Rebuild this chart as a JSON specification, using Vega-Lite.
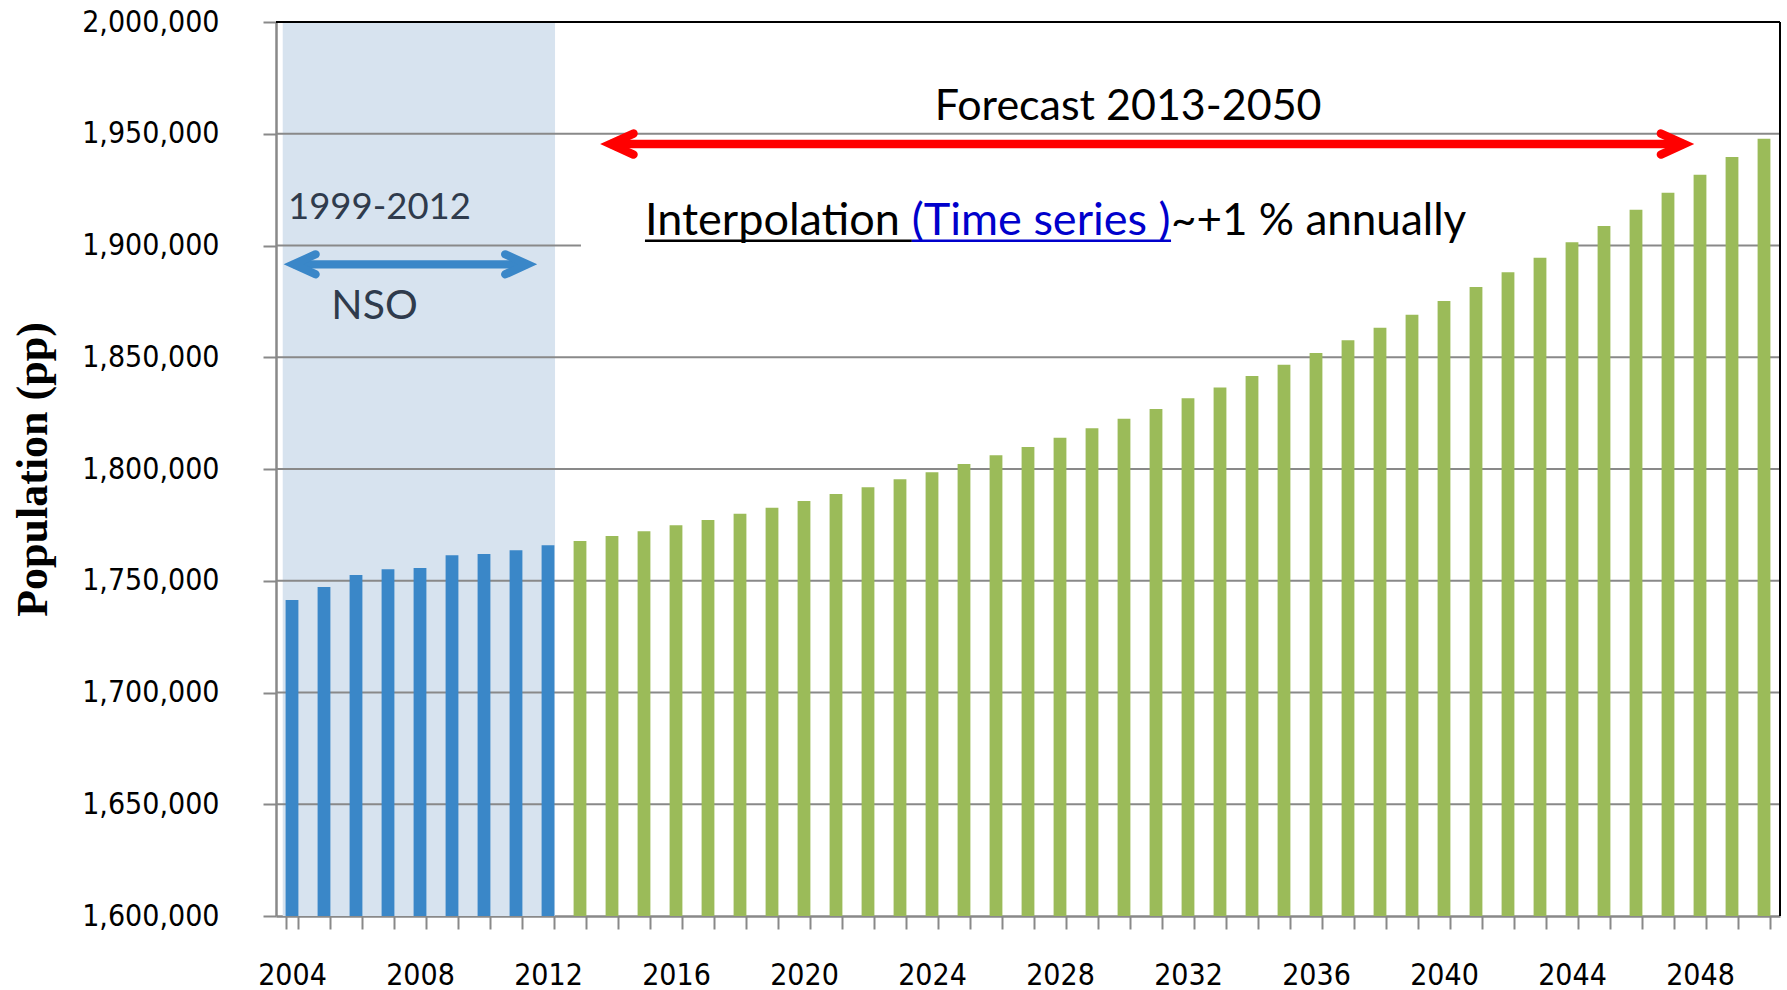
{
  "$schema": "https://vega.github.io/schema/vega-lite/v6.json",
  "width": 1504,
  "height": 894,
  "autosize": {"type": "none"},
  "padding": {"left": 276, "top": 22, "right": 7, "bottom": 74},
  "background": "white",
  "config": {
    "view": {"stroke": null},
    "axis": {
      "domainColor": "#898989",
      "domainWidth": 2.5,
      "tickColor": "#898989",
      "tickWidth": 2,
      "tickSize": 13,
      "labelFont": "DejaVu Sans Condensed",
      "labelFontSize": 30,
      "labelColor": "#000000"
    }
  },
  "resolve": {"scale": {"x": "independent"}},
  "layer": [
    {
      "layer": [
        {
          "data": {"values": [{}]},
          "mark": {"type": "rect", "color": "#d7e3ef"},
          "encoding": {
            "x": {"datum": 2003.71, "type": "quantitative", "scale": {"domain": [2003.5, 2050.5], "nice": false, "zero": false}, "axis": null},
            "x2": {"datum": 2012.22},
            "y": {"datum": 1600000, "type": "quantitative"},
            "y2": {"datum": 2000000}
          }
        },
        {
          "data": {"values": [{"v": 1650000}, {"v": 1700000}, {"v": 1750000}, {"v": 1800000}, {"v": 1850000}, {"v": 1900000}, {"v": 1950000}]},
          "mark": {"type": "rule", "color": "#898989", "strokeWidth": 2},
          "encoding": {"y": {"field": "v", "type": "quantitative"}}
        },
        {
          "data": {"values": [{}]},
          "mark": {"type": "rect", "color": "#ffffff"},
          "encoding": {
            "x": {"datum": 2013.03, "type": "quantitative", "axis": null},
            "x2": {"datum": 2044.03},
            "y": {"datum": 1898600, "type": "quantitative"},
            "y2": {"datum": 1901400}
          }
        }
      ]
    },
    {
      "data": {
        "values": [
          {"year": 2004, "value": 1741400, "period": "NSO"},
          {"year": 2005, "value": 1747200, "period": "NSO"},
          {"year": 2006, "value": 1752600, "period": "NSO"},
          {"year": 2007, "value": 1755100, "period": "NSO"},
          {"year": 2008, "value": 1755700, "period": "NSO"},
          {"year": 2009, "value": 1761400, "period": "NSO"},
          {"year": 2010, "value": 1762000, "period": "NSO"},
          {"year": 2011, "value": 1763700, "period": "NSO"},
          {"year": 2012, "value": 1765900, "period": "NSO"},
          {"year": 2013, "value": 1767800, "period": "Forecast"},
          {"year": 2014, "value": 1770000, "period": "Forecast"},
          {"year": 2015, "value": 1772200, "period": "Forecast"},
          {"year": 2016, "value": 1774800, "period": "Forecast"},
          {"year": 2017, "value": 1777200, "period": "Forecast"},
          {"year": 2018, "value": 1780000, "period": "Forecast"},
          {"year": 2019, "value": 1782700, "period": "Forecast"},
          {"year": 2020, "value": 1785700, "period": "Forecast"},
          {"year": 2021, "value": 1788800, "period": "Forecast"},
          {"year": 2022, "value": 1791800, "period": "Forecast"},
          {"year": 2023, "value": 1795400, "period": "Forecast"},
          {"year": 2024, "value": 1798600, "period": "Forecast"},
          {"year": 2025, "value": 1802200, "period": "Forecast"},
          {"year": 2026, "value": 1806100, "period": "Forecast"},
          {"year": 2027, "value": 1809800, "period": "Forecast"},
          {"year": 2028, "value": 1814000, "period": "Forecast"},
          {"year": 2029, "value": 1818200, "period": "Forecast"},
          {"year": 2030, "value": 1822500, "period": "Forecast"},
          {"year": 2031, "value": 1826800, "period": "Forecast"},
          {"year": 2032, "value": 1831600, "period": "Forecast"},
          {"year": 2033, "value": 1836500, "period": "Forecast"},
          {"year": 2034, "value": 1841600, "period": "Forecast"},
          {"year": 2035, "value": 1846700, "period": "Forecast"},
          {"year": 2036, "value": 1851900, "period": "Forecast"},
          {"year": 2037, "value": 1857600, "period": "Forecast"},
          {"year": 2038, "value": 1863200, "period": "Forecast"},
          {"year": 2039, "value": 1869000, "period": "Forecast"},
          {"year": 2040, "value": 1875200, "period": "Forecast"},
          {"year": 2041, "value": 1881400, "period": "Forecast"},
          {"year": 2042, "value": 1888000, "period": "Forecast"},
          {"year": 2043, "value": 1894500, "period": "Forecast"},
          {"year": 2044, "value": 1901500, "period": "Forecast"},
          {"year": 2045, "value": 1908700, "period": "Forecast"},
          {"year": 2046, "value": 1916000, "period": "Forecast"},
          {"year": 2047, "value": 1923600, "period": "Forecast"},
          {"year": 2048, "value": 1931700, "period": "Forecast"},
          {"year": 2049, "value": 1939600, "period": "Forecast"},
          {"year": 2050, "value": 1947800, "period": "Forecast"}
        ]
      },
      "mark": {"type": "bar"},
      "encoding": {
        "x": {
          "field": "year",
          "type": "ordinal",
          "scale": {"paddingInner": 0.6, "paddingOuter": 0.3},
          "axis": {
            "orient": "bottom",
            "title": null,
            "labelAngle": 0,
            "tickBand": "extent",
            "labelExpr": "(datum.value - 2004) % 4 === 0 ? datum.value : ''",
            "labelPadding": 55,
            "labelBaseline": "alphabetic",
            "grid": false
          }
        },
        "y": {
          "field": "value",
          "type": "quantitative",
          "scale": {"domain": [1600000, 2000000], "zero": false, "nice": false},
          "axis": {
            "orient": "left",
            "values": [1600000, 1650000, 1700000, 1750000, 1800000, 1850000, 1900000, 1950000, 2000000],
            "labelExpr": "format(datum.value, ',')",
            "grid": false,
            "labelPadding": 44,
            "title": "Population (pp)",
            "titleFont": "Liberation Serif",
            "titleFontWeight": "bold",
            "titleFontSize": 44,
            "titleColor": "#000000",
            "titlePadding": 35,
            "titleBaseline": "alphabetic"
          }
        },
        "y2": {"datum": 1600000},
        "color": {
          "field": "period",
          "type": "nominal",
          "scale": {"domain": ["NSO", "Forecast"], "range": ["#3a87c8", "#9bbb59"]},
          "legend": null
        }
      }
    },
    {
      "layer": [
        {
          "data": {"values": [{}]},
          "mark": {"type": "rule", "color": "#000000", "strokeWidth": 2},
          "encoding": {
            "x": {"datum": 2050.5, "type": "quantitative", "scale": {"domain": [2003.5, 2050.5], "nice": false, "zero": false}, "axis": null}
          }
        },
        {
          "data": {"values": [{}]},
          "mark": {"type": "rule", "color": "#000000", "strokeWidth": 2},
          "encoding": {"y": {"datum": 2000000, "type": "quantitative"}}
        },
        {
          "data": {"values": [{}]},
          "mark": {"type": "rule", "color": "#ff0000", "strokeWidth": 8.5},
          "encoding": {
            "x": {"datum": 2013.95, "type": "quantitative", "axis": null},
            "x2": {"datum": 2047.5},
            "y": {"datum": 1945400, "type": "quantitative"}
          }
        },
        {
          "data": {"values": [{}]},
          "mark": {"type": "point", "shape": "M 2.2 -1 L 0 0 L 2.2 1", "size": 441, "filled": false, "stroke": "#ff0000", "strokeWidth": 8.5, "strokeJoin": "miter", "strokeCap": "round", "opacity": 1},
          "encoding": {
            "x": {"datum": 2013.95, "type": "quantitative", "axis": null},
            "y": {"datum": 1945400, "type": "quantitative"}
          }
        },
        {
          "data": {"values": [{}]},
          "mark": {"type": "point", "shape": "M -2.2 -1 L 0 0 L -2.2 1", "size": 441, "filled": false, "stroke": "#ff0000", "strokeWidth": 8.5, "strokeJoin": "miter", "strokeCap": "round", "opacity": 1},
          "encoding": {
            "x": {"datum": 2047.5, "type": "quantitative", "axis": null},
            "y": {"datum": 1945400, "type": "quantitative"}
          }
        },
        {
          "data": {"values": [{}]},
          "mark": {"type": "rule", "color": "#3a87c8", "strokeWidth": 8.3},
          "encoding": {
            "x": {"datum": 2004.05, "type": "quantitative", "axis": null},
            "x2": {"datum": 2011.35},
            "y": {"datum": 1891570, "type": "quantitative"}
          }
        },
        {
          "data": {"values": [{}]},
          "mark": {"type": "point", "shape": "M 2.2 -1 L 0 0 L 2.2 1", "size": 400, "filled": false, "stroke": "#3a87c8", "strokeWidth": 8.3, "strokeJoin": "miter", "strokeCap": "round", "opacity": 1},
          "encoding": {
            "x": {"datum": 2004.05, "type": "quantitative", "axis": null},
            "y": {"datum": 1891570, "type": "quantitative"}
          }
        },
        {
          "data": {"values": [{}]},
          "mark": {"type": "point", "shape": "M -2.2 -1 L 0 0 L -2.2 1", "size": 400, "filled": false, "stroke": "#3a87c8", "strokeWidth": 8.3, "strokeJoin": "miter", "strokeCap": "round", "opacity": 1},
          "encoding": {
            "x": {"datum": 2011.35, "type": "quantitative", "axis": null},
            "y": {"datum": 1891570, "type": "quantitative"}
          }
        },
        {
          "data": {"values": [{}]},
          "mark": {"type": "text", "text": "1999-2012", "font": "Lato", "fontSize": 36.5, "color": "#2f3b4c", "align": "left", "baseline": "alphabetic"},
          "encoding": {
            "x": {"datum": 2003.875, "type": "quantitative", "axis": null},
            "y": {"datum": 1911700, "type": "quantitative"}
          }
        },
        {
          "data": {"values": [{}]},
          "mark": {"type": "text", "text": "NSO", "font": "Lato", "fontSize": 41, "color": "#2f3b4c", "align": "left", "baseline": "alphabetic"},
          "encoding": {
            "x": {"datum": 2005.23, "type": "quantitative", "axis": null},
            "y": {"datum": 1866960, "type": "quantitative"}
          }
        },
        {
          "data": {"values": [{}]},
          "mark": {"type": "text", "text": "Forecast 2013-2050", "font": "Lato", "fontSize": 43, "color": "#000000", "align": "center", "baseline": "alphabetic"},
          "encoding": {
            "x": {"datum": 2030.13, "type": "quantitative", "axis": null},
            "y": {"datum": 1956130, "type": "quantitative"}
          }
        },
        {
          "data": {"values": [{}]},
          "mark": {"type": "text", "text": "Interpolation", "font": "Lato", "fontSize": 45, "color": "#000000", "align": "left", "baseline": "alphabetic"},
          "encoding": {
            "x": {"datum": 2015.03, "type": "quantitative", "axis": null},
            "y": {"datum": 1904680, "type": "quantitative"}
          }
        },
        {
          "data": {"values": [{}]},
          "mark": {"type": "text", "text": "(Time series )", "font": "Lato", "fontSize": 45, "color": "#0000cc", "align": "left", "baseline": "alphabetic"},
          "encoding": {
            "x": {"datum": 2023.37, "type": "quantitative", "axis": null},
            "y": {"datum": 1904680, "type": "quantitative"}
          }
        },
        {
          "data": {"values": [{}]},
          "mark": {"type": "text", "text": "~+1 % annually", "font": "Lato", "fontSize": 44, "color": "#000000", "align": "left", "baseline": "alphabetic"},
          "encoding": {
            "x": {"datum": 2031.47, "type": "quantitative", "axis": null},
            "y": {"datum": 1904680, "type": "quantitative"}
          }
        },
        {
          "data": {"values": [{}]},
          "mark": {"type": "rule", "color": "#000000", "strokeWidth": 2.5},
          "encoding": {
            "x": {"datum": 2015.03, "type": "quantitative", "axis": null},
            "x2": {"datum": 2023.37},
            "y": {"datum": 1902100, "type": "quantitative"}
          }
        },
        {
          "data": {"values": [{}]},
          "mark": {"type": "rule", "color": "#0000cc", "strokeWidth": 2.5},
          "encoding": {
            "x": {"datum": 2023.37, "type": "quantitative", "axis": null},
            "x2": {"datum": 2031.47},
            "y": {"datum": 1902100, "type": "quantitative"}
          }
        }
      ]
    }
  ]
}
